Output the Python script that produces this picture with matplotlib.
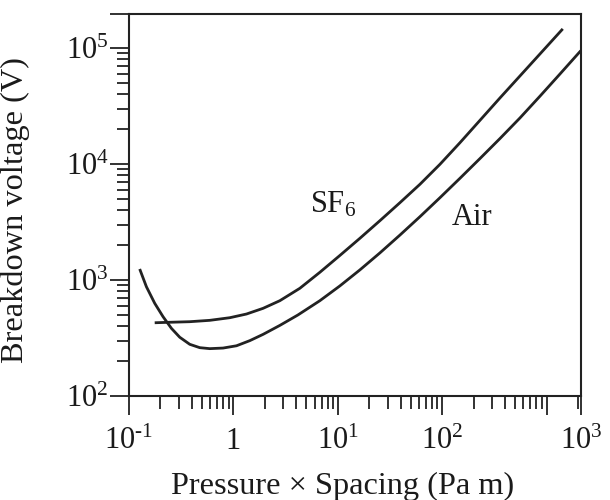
import numpy as np
import matplotlib
matplotlib.use("Agg")
import matplotlib.pyplot as plt
from matplotlib.ticker import LogLocator, NullFormatter, FixedLocator, FixedFormatter

plt.rcParams['font.family'] = ['Liberation Serif', 'DejaVu Serif']
plt.rcParams['mathtext.fontset'] = 'custom'
plt.rcParams['mathtext.rm'] = 'Liberation Serif'
plt.rcParams['mathtext.it'] = 'Liberation Serif:italic'

# Paschen curves: pressure x spacing (Pa m), breakdown voltage (V)
air_pd = [0.1266, 0.1468, 0.1763, 0.2118, 0.2549, 0.3062, 0.3819, 0.4763, 0.5939,
          0.7966, 1.071, 1.436, 1.927, 2.786, 4.144, 6.735, 10.47, 16.29, 25.33,
          39.39, 61.25, 95.26, 148.1, 230.4, 358.2, 557.0, 866.2, 1347, 2128]
air_v = [1244, 875, 630, 483, 383, 321, 279, 261, 256,
         259, 271, 300, 340, 406, 499, 663, 889, 1222, 1712,
         2439, 3513, 5122, 7530, 11150, 16590, 24970, 38480, 59790, 94780]

sf6_pd = [0.1763, 0.2455, 0.3819, 0.5939, 0.9236, 1.335, 1.927, 2.786, 4.331,
          6.735, 10.47, 16.29, 25.33, 39.39, 61.25, 95.26, 148.1, 230.4,
          358.2, 557.0, 866.2, 1430]
sf6_v = [428, 432, 437, 449, 473, 509, 570, 663, 848,
         1165, 1627, 2288, 3245, 4638, 6683, 9940, 15260, 23810,
         37130, 57470, 88960, 146100]

x_lim = (0.1, 10 ** 3.33)
y_lim = (100, 10 ** 5.293)
x_major = [0.1, 1, 10, 100, 1000, x_lim[1]]
x_labels = [r'$10^{\text{-}1}$', '1', r'$10^{1}$', r'$10^{2}$', '', r'$10^{3}$']
y_major = [1e2, 1e3, 1e4, 1e5, y_lim[1]]
y_labels = [r'$10^{2}$', r'$10^{3}$', r'$10^{4}$', r'$10^{5}$', '']

ink = '#222222'

fig = plt.figure(figsize=(6.1, 5.0), dpi=100)
ax = fig.add_axes([129 / 610, 1 - 396 / 500, 452 / 610, 382 / 500])

ax.plot(air_pd, air_v, color=ink, lw=2.0, solid_capstyle='butt', solid_joinstyle='round')
ax.plot(sf6_pd, sf6_v, color=ink, lw=2.0, solid_capstyle='butt', solid_joinstyle='round')

ax.set_xscale('log')
ax.set_yscale('log')
ax.set_xlim(*x_lim)
ax.set_ylim(*y_lim)

ax.xaxis.set_major_locator(FixedLocator(x_major))
ax.xaxis.set_major_formatter(FixedFormatter(x_labels))
ax.yaxis.set_major_locator(FixedLocator(y_major))
ax.yaxis.set_major_formatter(FixedFormatter(y_labels))
ax.xaxis.set_minor_locator(LogLocator(base=10, subs=np.arange(2, 10)))
ax.yaxis.set_minor_locator(LogLocator(base=10, subs=np.arange(2, 10)))
ax.xaxis.set_minor_formatter(NullFormatter())
ax.yaxis.set_minor_formatter(NullFormatter())

ax.tick_params(which='both', direction='out', color=ink, width=1.3,
               labelsize=22, labelcolor='#1a1a1a', top=False, right=False)
ax.tick_params(which='major', length=13.5)
ax.tick_params(which='minor', length=9)
ax.tick_params(axis='x', which='major', pad=9)
ax.tick_params(axis='y', which='major', pad=1)

for s in ax.spines.values():
    s.set_color(ink)
    s.set_linewidth(1.5)

ax.set_xlabel('Pressure \u00d7 Spacing (Pa m)', fontsize=23.3, color='#1a1a1a')
ax.xaxis.set_label_coords(0.473, -0.20)
ax.set_ylabel('Breakdown voltage (V)', fontsize=23.3, color='#1a1a1a')
ax.yaxis.set_label_coords(-0.22, 0.486)

ax.text(5.41, 3786, r'SF$_6$', fontsize=22, color='#1a1a1a', ha='left', va='baseline')
ax.text(124, 2980, 'Air', fontsize=22, color='#1a1a1a', ha='left', va='baseline')

fig.savefig('out.png', dpi=100)
